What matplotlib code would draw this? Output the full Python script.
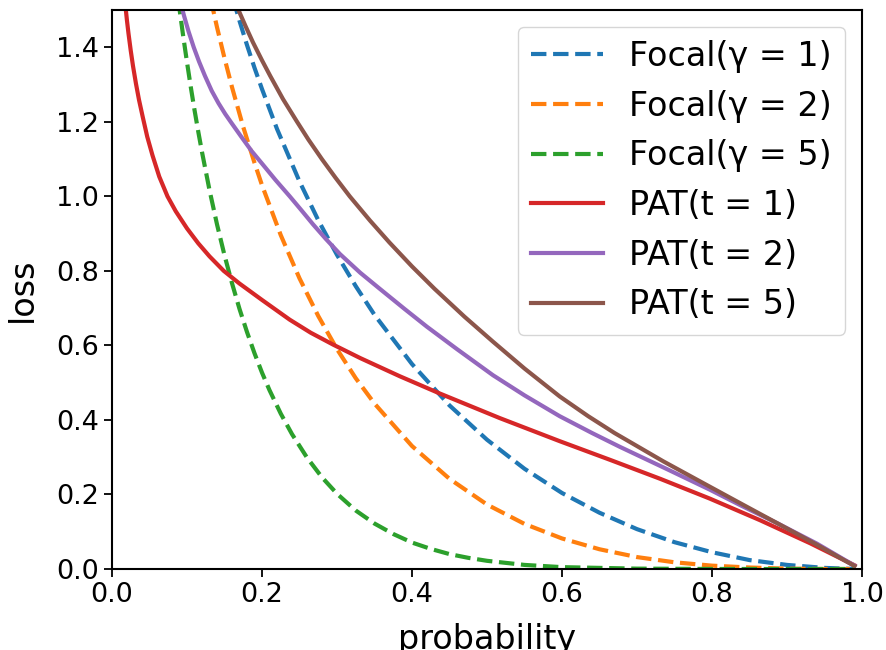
import matplotlib
matplotlib.use("Agg")
import matplotlib.pyplot as plt

# Focal loss curves
p_focal1 = [0.16, 0.17, 0.18, 0.19, 0.2, 0.22, 0.25, 0.275, 0.3, 0.325, 0.35, 0.4, 0.45, 0.5,
            0.55, 0.6, 0.65, 0.7, 0.75, 0.8, 0.85, 0.9, 0.95, 0.99]
loss_focal1 = [1.540, 1.471, 1.406, 1.345, 1.288, 1.181, 1.040, 0.936, 0.843, 0.759, 0.682, 0.550, 0.439, 0.347,
               0.269, 0.204, 0.151, 0.107, 0.072, 0.045, 0.024, 0.011, 0.003, 0.0001]

p_focal2 = [0.13, 0.14, 0.15, 0.16, 0.175, 0.19, 0.2, 0.225, 0.25, 0.275, 0.3, 0.325, 0.35, 0.4, 0.45,
            0.5, 0.55, 0.6, 0.65, 0.7, 0.75, 0.8, 0.85, 0.9, 0.95, 0.99]
loss_focal2 = [1.544, 1.454, 1.371, 1.293, 1.186, 1.090, 1.030, 0.896, 0.780, 0.679, 0.590, 0.512, 0.444, 0.330, 0.242,
               0.173, 0.121, 0.082, 0.053, 0.032, 0.018, 0.009, 0.004, 0.001, 0.0001, 0.0]

p_focal5 = [0.085, 0.09, 0.095, 0.1, 0.105, 0.11, 0.115, 0.12, 0.13, 0.14, 0.15, 0.16, 0.17, 0.18, 0.19,
            0.2, 0.21, 0.225, 0.24, 0.26, 0.28, 0.3, 0.325, 0.35, 0.375, 0.4, 0.425, 0.45, 0.475, 0.5,
            0.55, 0.6, 0.7, 0.8, 0.9, 0.99]
loss_focal5 = [1.581, 1.503, 1.429, 1.360, 1.294, 1.232, 1.174, 1.119, 1.017, 0.925, 0.842, 0.767, 0.698, 0.636, 0.579,
               0.527, 0.480, 0.417, 0.362, 0.299, 0.246, 0.202, 0.157, 0.122, 0.094, 0.071, 0.054, 0.040, 0.030, 0.022,
               0.011, 0.005, 0.001, 0.0001, 0.0, 0.0]

# PAT curves
p_pat1 = [0.016, 0.018, 0.02, 0.022, 0.025, 0.028, 0.032, 0.036, 0.041, 0.047, 0.054, 0.063, 0.074,
          0.085, 0.1, 0.115, 0.13, 0.149, 0.17, 0.2, 0.237, 0.265, 0.295,
          0.331, 0.384, 0.437, 0.517, 0.597, 0.664, 0.731, 0.797, 0.864, 0.931, 0.99]
loss_pat1 = [1.551, 1.509, 1.471, 1.437, 1.391, 1.350, 1.302, 1.259, 1.213, 1.160, 1.110, 1.053, 1.0,
             0.960, 0.914, 0.874, 0.839, 0.80, 0.766, 0.722, 0.669, 0.634, 0.602,
             0.566, 0.517, 0.471, 0.405, 0.343, 0.293, 0.242, 0.189, 0.131, 0.069, 0.010]

p_pat2 = [0.09, 0.096, 0.102, 0.109, 0.116, 0.124, 0.133, 0.142, 0.151, 0.16, 0.172, 0.186, 0.2, 0.218,
          0.237, 0.252, 0.268, 0.285, 0.304, 0.331, 0.357, 0.39, 0.42, 0.46, 0.508, 0.55, 0.597, 0.64,
          0.677, 0.74, 0.797, 0.84, 0.886, 0.94, 0.99]
loss_pat2 = [1.53, 1.485, 1.443, 1.40, 1.362, 1.323, 1.283, 1.25, 1.221, 1.195, 1.161, 1.122, 1.088, 1.044,
             1.0, 0.964, 0.925, 0.886, 0.845, 0.795, 0.752, 0.698, 0.650, 0.590, 0.520, 0.466, 0.41, 0.365,
             0.328, 0.268, 0.213, 0.169, 0.124, 0.068, 0.009]

p_pat5 = [0.165, 0.168, 0.178, 0.188, 0.2, 0.211, 0.228, 0.246, 0.262, 0.28, 0.298, 0.317, 0.344, 0.37,
          0.4, 0.43, 0.47, 0.508, 0.55, 0.597, 0.635, 0.67, 0.735, 0.797, 0.84, 0.886, 0.94, 0.99]
loss_pat5 = [1.52, 1.503, 1.457, 1.413, 1.365, 1.323, 1.261, 1.2025, 1.152, 1.0995, 1.05, 1.0, 0.935, 0.876,
             0.812, 0.752, 0.677, 0.61, 0.538, 0.463, 0.41, 0.365, 0.289, 0.221, 0.174, 0.124, 0.065, 0.008]

fig = plt.figure(figsize=(8.86, 6.5), dpi=100)
ax = fig.add_subplot(111)
fig.subplots_adjust(left=0.1264, right=0.9729, top=0.9846, bottom=0.1246)

lw = 3
ax.plot(p_focal1, loss_focal1, '--', color='#1f77b4', lw=lw, label='Focal(γ = 1)')
ax.plot(p_focal2, loss_focal2, '--', color='#ff7f0e', lw=lw, label='Focal(γ = 2)')
ax.plot(p_focal5, loss_focal5, '--', color='#2ca02c', lw=lw, label='Focal(γ = 5)')
ax.plot(p_pat1, loss_pat1, '-', color='#d62728', lw=lw, label='PAT(t = 1)')
ax.plot(p_pat2, loss_pat2, '-', color='#9467bd', lw=lw, label='PAT(t = 2)')
ax.plot(p_pat5, loss_pat5, '-', color='#8c564b', lw=lw, label='PAT(t = 5)')

ax.set_xlim(0, 1)
ax.set_ylim(0, 1.5)
ax.set_xticks([0.0, 0.2, 0.4, 0.6, 0.8, 1.0])
ax.set_yticks([0.0, 0.2, 0.4, 0.6, 0.8, 1.0, 1.2, 1.4])
ax.tick_params(labelsize=19.5, length=6, width=1.3)
for s in ax.spines.values():
    s.set_linewidth(1.5)

ax.set_xlabel('probability', fontsize=24, labelpad=11)
ax.set_ylabel('loss', fontsize=24, labelpad=12)
ax.legend(loc='upper right', fontsize=24, handlelength=2.15)

fig.savefig('out.png', dpi=100)
